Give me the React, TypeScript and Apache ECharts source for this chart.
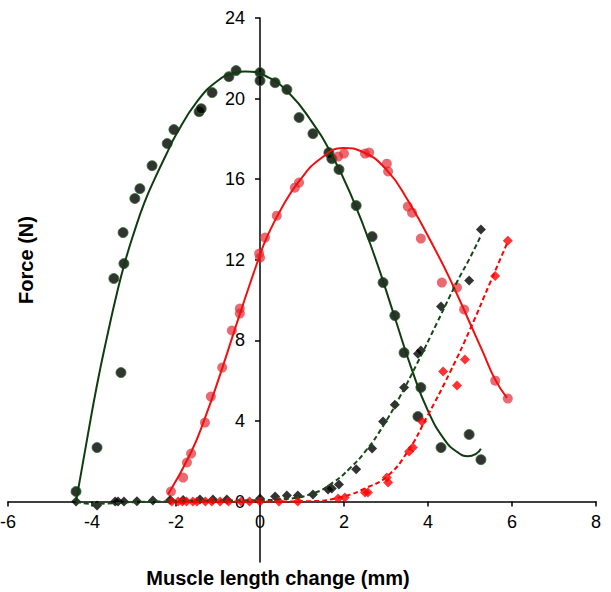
import React, { useEffect, useRef } from "react";
import * as echarts from "echarts";

const xTicks = [-6, -4, -2, 0, 2, 4, 6, 8];
const yTicks = [0, 4, 8, 12, 16, 20, 24];
const xMin = -6;
const xMax = 8;
const yMin = -3;
const yMax = 24;

const blackCircles: number[][] = [
  [-4.38, 0.5], [-3.88, 2.68], [-3.31, 6.4], [-3.48, 11.07], [-3.24, 11.81], [-3.26, 13.35],
  [-2.98, 15.04], [-2.86, 15.53], [-2.57, 16.67], [-2.21, 17.77], [-2.05, 18.46], [-1.45, 19.35],
  [-1.4, 19.5], [-1.14, 20.3], [-0.74, 21.09], [-0.57, 21.39], [0, 21.29], [0, 20.89],
  [0.36, 20.79], [0.64, 20.45], [0.93, 19.06], [1.26, 18.26], [1.64, 17.32], [1.71, 17.02],
  [1.88, 16.48], [2.29, 14.69], [2.67, 13.15], [2.93, 10.87], [3.21, 9.23], [3.43, 7.39],
  [3.83, 5.66], [3.76, 4.22], [4.31, 2.68], [4.98, 3.33], [5.26, 2.08],
];

const redCircles: number[][] = [
  [-2.12, 0.5], [-1.83, 1.19], [-1.74, 1.94], [-1.64, 2.38], [-1.31, 3.92], [-1.17, 5.21],
  [-0.9, 6.65], [-0.67, 8.49], [-0.48, 9.33], [-0.48, 9.58], [-0.02, 12.31], [0.0, 12.1],
  [0.12, 13.1], [0.4, 14.19], [0.83, 15.58], [0.93, 15.83], [1.86, 17.12], [2.0, 17.27],
  [2.5, 17.27], [2.6, 17.32], [3.02, 16.77], [3.05, 16.38], [3.52, 14.64], [3.62, 14.34],
  [3.83, 13.05], [4.33, 10.87], [4.69, 10.62], [4.86, 9.53], [5.6, 6.0], [5.9, 5.11],
];

const blackDiamonds: number[][] = [
  [-4.38, 0], [-3.88, -0.2], [-3.45, 0], [-3.38, 0], [-3.24, 0], [-2.93, 0.02], [-2.55, 0.05],
  [-2.14, 0.08], [-1.83, 0.08], [-1.43, 0.1], [-1.12, 0.1], [-0.79, 0.1], [0, 0.15], [0.36, 0.25],
  [0.64, 0.3], [0.9, 0.3], [1.26, 0.35], [1.62, 0.6], [1.71, 0.65], [1.88, 0.85], [2.29, 1.6],
  [2.67, 2.63], [2.93, 3.97], [3.21, 4.81], [3.43, 5.66], [3.76, 7.34], [3.83, 7.5], [4.31, 9.68],
  [4.98, 10.97], [5.26, 13.5],
];

const redDiamonds: number[][] = [
  [-2.1, 0], [-1.95, 0], [-1.85, 0], [-1.75, 0], [-1.6, 0], [-1.5, 0], [-1.3, 0], [-1.15, 0],
  [-0.95, 0], [-0.75, 0], [-0.45, 0], [-0.25, 0], [0, 0], [0.45, 0], [0.9, 0], [1.86, 0.15],
  [2.02, 0.2], [2.5, 0.45], [2.57, 0.45], [3.02, 1.19], [3.05, 0.94], [3.55, 2.48], [3.64, 2.68],
  [3.86, 3.97], [4.36, 6.45], [4.69, 5.76], [4.88, 7.05], [5.6, 11.2], [5.9, 12.95],
];

// fitted trend lines
const blackFit: number[][] = [
  [-4.38, 0], [-4.1, 3.3], [-3.88, 5.8], [-3.65, 8.1], [-3.4, 10.4], [-3.2, 12.0], [-3.0, 13.35],
  [-2.75, 14.85], [-2.5, 16.05], [-2.25, 17.15], [-2.0, 18.2], [-1.5, 19.85], [-1.0, 20.9],
  [-0.6, 21.28], [-0.35, 21.35], [0.2, 21.05], [0.7, 20.25], [1.2, 18.95], [1.7, 17.25],
  [2.2, 15.05], [2.7, 12.35], [3.2, 9.2], [3.6, 6.65], [4.0, 4.5], [4.4, 3.05], [4.7, 2.45],
  [4.95, 2.25], [5.15, 2.38], [5.26, 2.62],
];

const redFit: number[][] = [
  [-2.19, 0.35], [-1.64, 2.45], [-1.3, 4.2], [-0.95, 6.3], [-0.48, 9.3], [-0.05, 11.95],
  [0.17, 13.15], [0.55, 14.7], [0.95, 15.95], [1.43, 17.0], [1.98, 17.55], [2.45, 17.35],
  [3.02, 16.45], [3.52, 14.95], [4.21, 12.35], [4.6, 10.7], [5.0, 8.85], [5.3, 7.45],
  [5.6, 6.05], [5.88, 5.15],
];

const blackPassiveFit: number[][] = [
  [-4.38, 0], [-4.0, -0.12], [-3.5, -0.08], [-3.0, -0.03], [-2.0, 0.02], [-1.0, 0.05], [0, 0.07],
  [0.55, 0.12], [1.26, 0.4], [1.74, 0.95], [2.14, 1.65], [2.55, 2.6], [2.93, 3.75], [3.33, 5.2],
  [3.74, 6.85], [4.21, 8.85], [4.69, 10.9], [5.0, 12.1], [5.26, 13.2],
];

const redPassiveFit: number[][] = [
  [-2.14, 0], [-1.0, 0], [0, 0], [1.19, 0.02], [1.98, 0.25], [2.55, 0.7], [3.02, 1.24],
  [3.5, 2.43], [3.98, 4.22], [4.52, 6.4], [5.0, 8.54], [5.48, 10.87], [5.9, 12.9],
];

const FONT = "'Liberation Sans', Arial, sans-serif";

const W = 611;
const H = 592;
const GL = 8;
const GR = 15;
const GT = 18;
const GB = 30;

export default function App() {
  const ref = useRef<HTMLDivElement>(null);
  useEffect(() => {
    if (!ref.current) return;
    const chart = echarts.init(ref.current, null, { renderer: "svg" });
    // axes crossing at zero: shift the axes from the grid edges to the zero lines
    const gw = W - GL - GR;
    const gh = H - GT - GB;
    const yOffset = -((0 - xMin) / (xMax - xMin)) * gw;
    const xOffset = -((0 - yMin) / (yMax - yMin)) * gh;
    const fitLine = (data: number[][], color: string, dashed: boolean) => ({
      type: "line",
      data,
      smooth: 0.5,
      showSymbol: false,
      lineStyle: { color, width: 2, type: dashed ? [5, 3] : "solid" },
      z: 3,
    });
    chart.setOption({
      animation: false,
      backgroundColor: "#ffffff",
      grid: { left: GL, right: GR, top: GT, bottom: GB, outerBoundsMode: "none", containLabel: false },
      xAxis: {
        type: "value",
        min: xMin,
        max: xMax,
        interval: 2,
        position: "bottom",
        offset: xOffset,
        splitLine: { show: false },
        axisLine: { onZero: false, lineStyle: { color: "#000", width: 1.5 } },
        axisTick: { show: true, inside: false, length: 5, lineStyle: { color: "#000", width: 1.5 } },
        axisLabel: {
          color: "#000", fontSize: 18, fontFamily: FONT, margin: 11,
          showMinLabel: true, showMaxLabel: true, customValues: xTicks,
        },
      },
      yAxis: {
        type: "value",
        min: yMin,
        max: yMax,
        position: "left",
        offset: yOffset,
        splitLine: { show: false },
        axisLine: { onZero: false, lineStyle: { color: "#000", width: 1.5 } },
        axisTick: { show: true, inside: false, length: 5, customValues: yTicks, lineStyle: { color: "#000", width: 1.5 } },
        axisLabel: { color: "#000", fontSize: 18, fontFamily: FONT, margin: 15, customValues: yTicks },
      },
      graphic: [
        {
          type: "text",
          x: 278,
          y: 578,
          style: {
            text: "Muscle length change (mm)",
            font: `bold 20px ${FONT}`,
            fill: "#000",
            textAlign: "center",
            textVerticalAlign: "middle",
          },
        },
        {
          type: "text",
          x: 26,
          y: 260,
          rotation: Math.PI / 2,
          style: {
            text: "Force (N)",
            font: `bold 20px ${FONT}`,
            fill: "#000",
            textAlign: "center",
            textVerticalAlign: "middle",
          },
        },
      ],
      series: [
        {
          type: "scatter",
          data: blackCircles,
          symbol: "circle",
          symbolSize: 10,
          itemStyle: { color: "#000", borderColor: "#2e6e2e", borderWidth: 1 },
          z: 2,
        },
        {
          type: "scatter",
          data: redCircles,
          symbol: "circle",
          symbolSize: 10,
          itemStyle: { color: "rgba(226,36,46,0.85)" },
          z: 2,
        },
        {
          type: "scatter",
          data: blackDiamonds,
          symbol: "diamond",
          symbolSize: 10,
          itemStyle: { color: "#000" },
          z: 2,
        },
        {
          type: "scatter",
          data: redDiamonds,
          symbol: "diamond",
          symbolSize: 10,
          itemStyle: { color: "#ff0000" },
          z: 2,
        },
        fitLine(blackFit, "#0f3d0f", false),
        fitLine(redFit, "#ee1111", false),
        fitLine(blackPassiveFit, "#144a14", true),
        fitLine(redPassiveFit, "#ff0000", true),
      ],
    });
    return () => chart.dispose();
  }, []);
  return (
    <div
      ref={ref}
      style={{ position: "fixed", left: 0, top: 0, width: W, height: H, background: "#fff" }}
    />
  );
}
